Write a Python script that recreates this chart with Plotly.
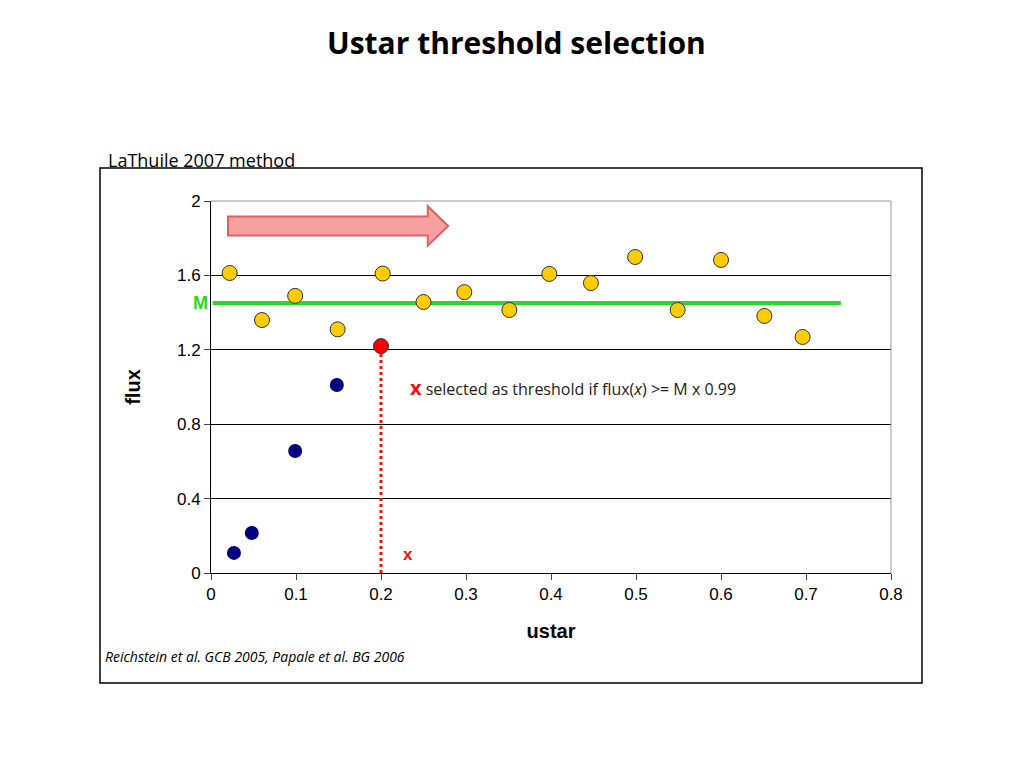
import plotly.graph_objects as go

yx = [0.022,0.06,0.099,0.149,0.202,0.25,0.298,0.351,0.398,0.447,0.499,0.549,0.6,0.651,0.696]
yy = [1.613,1.36,1.49,1.31,1.61,1.457,1.51,1.414,1.608,1.559,1.699,1.414,1.683,1.382,1.269]
bx = [0.027,0.048,0.099,0.148]
by = [0.108,0.215,0.656,1.011]
rx = [0.2]; ry = [1.22]
M = 1.452
mx = [0.002, 0.741]

fig = go.Figure()
fig.add_trace(go.Scatter(x=mx, y=[M, M], mode="lines", line=dict(color="#22dd22", width=4), hoverinfo="skip"))
fig.add_trace(go.Scatter(x=[0.2, 0.2], y=[0, ry[0]], mode="lines", line=dict(color="#ee1111", width=3, dash="dot")))
fig.add_trace(go.Scatter(x=yx, y=yy, mode="markers", marker=dict(size=15, color="#ffcc00", line=dict(color="#333", width=1))))
fig.add_trace(go.Scatter(x=bx, y=by, mode="markers", marker=dict(size=14, color="#000080")))
fig.add_trace(go.Scatter(x=rx, y=ry, mode="markers", marker=dict(size=15, color="#ff0000", line=dict(color="#333", width=1))))

# block arrow
fig.add_shape(type="path", xref="x", yref="y",
              path="M 0.02 1.815 L 0.255 1.815 L 0.255 1.76 L 0.279 1.866 L 0.255 1.972 L 0.255 1.917 L 0.02 1.917 Z",
              fillcolor="#f7a0a0", line=dict(color="#e06060", width=2))
# outer frame
fig.add_shape(type="rect", xref="paper", yref="paper",
              x0=(92-203)/680, x1=(914-203)/680, y0=(565-675)/372, y1=(565-160)/372,
              line=dict(color="black", width=1.5))

fig.add_annotation(xref="paper", yref="y", x=(183-203)/680, y=M, text="<b>M</b>", showarrow=False,
                   font=dict(color="#22dd22", size=18, family="Liberation Sans"))
fig.add_annotation(xref="x", yref="y", x=0.232, y=0.1, text="<b>x</b>", showarrow=False,
                   font=dict(color="#ee1111", size=17, family="Liberation Sans"))
fig.add_annotation(xref="x", yref="y", x=0.232, y=1.0, xanchor="left",
                   text="<b><span style='color:#ee1111;font-size:20px'>x</span></b> selected as threshold if flux(<i>x</i>) >= M x 0.99",
                   showarrow=False, font=dict(color="#222", size=16, family="Open Sans"))
fig.add_annotation(xref="paper", yref="paper", x=(508-203)/680, y=(565-35)/372, yanchor="middle",
                   text="<b>Ustar threshold selection</b>", showarrow=False,
                   font=dict(size=30, family="Open Sans", color="black"))
fig.add_annotation(xref="paper", yref="paper", x=(98-203)/680, y=(565-138)/372, xanchor="left",
                   text="LaThuile 2007 method", showarrow=False, font=dict(size=18, family="Open Sans", color="black"))
fig.add_annotation(xref="paper", yref="paper", x=(95-203)/680, y=(565-660)/372, xanchor="left",
                   text="<i>Reichstein et al. GCB 2005, Papale et al. BG 2006</i>", showarrow=False,
                   font=dict(size=14, family="Open Sans", color="black"))

fig.update_layout(width=1024, height=768, margin=dict(l=203, r=141, t=193, b=203),
                  paper_bgcolor="white", plot_bgcolor="white", showlegend=False,
                  font=dict(family="Liberation Sans", size=17, color="black"))
fig.update_xaxes(range=[0, 0.8], tickvals=[0,0.1,0.2,0.3,0.4,0.5,0.6,0.7,0.8],
                 ticktext=["0","0.1","0.2","0.3","0.4","0.5","0.6","0.7","0.8"],
                 showgrid=False, zeroline=False, showline=True, linecolor="black",
                 ticks="outside", ticklen=6, title=dict(text="<b>ustar</b>", standoff=20))
fig.update_yaxes(range=[0, 2], tickvals=[0,0.4,0.8,1.2,1.6,2], ticktext=["0","0.4","0.8","1.2","1.6","2"],
                 showgrid=True, gridcolor="black", gridwidth=1, zeroline=False,
                 showline=True, linecolor="black", ticks="outside", ticklen=6,
                 title=dict(text="<b>flux</b>", standoff=30))
fig.add_shape(type="line", xref="paper", yref="paper", x0=1, x1=1, y0=0, y1=1, line=dict(color="#999", width=1))
fig.add_shape(type="line", xref="paper", yref="paper", x0=0, x1=1, y0=1, y1=1, line=dict(color="#999", width=1))
fig.write_html("out.html")
